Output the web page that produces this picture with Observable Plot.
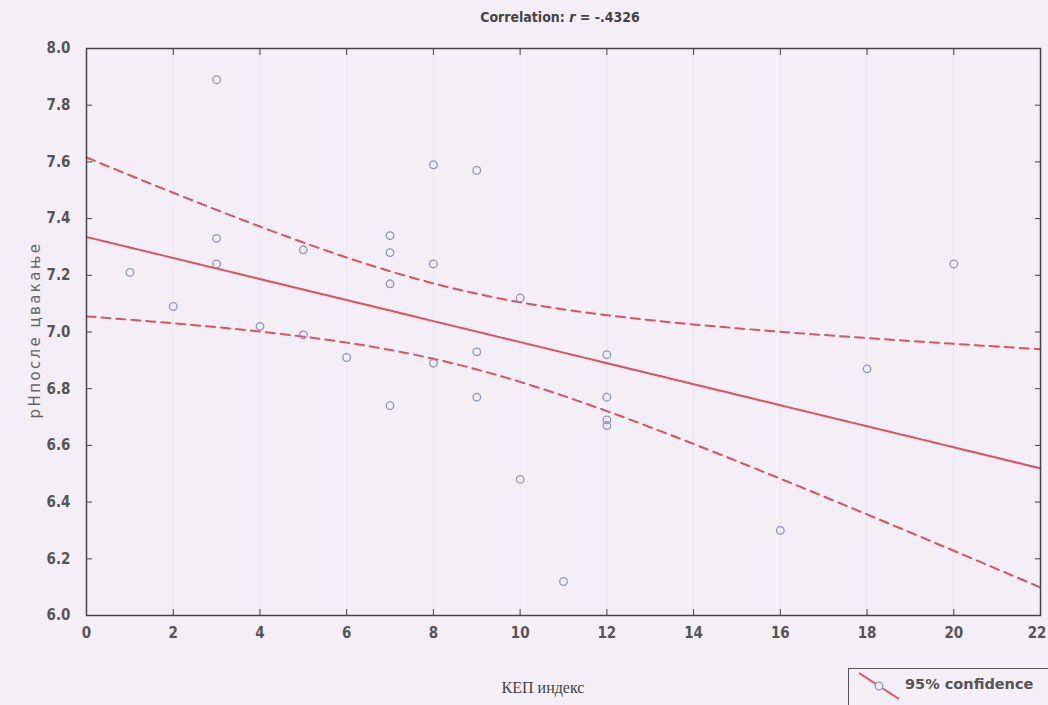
<!DOCTYPE html>
<html>
<head>
<meta charset="utf-8">
<script src="https://cdn.jsdelivr.net/npm/d3@7"></script>
<script src="https://cdn.jsdelivr.net/npm/@observablehq/plot@0.6"></script>
<style>
  html, body { margin: 0; padding: 0; background: #f4eff7; }
  #wrap { position: relative; width: 1048px; height: 705px; overflow: hidden; background: #f4eff7; }
  .cond { font-family: "Liberation Sans Narrow", "Arial Narrow", "DejaVu Sans Condensed", sans-serif; }
  #title { position: absolute; left: 0; width: 1120px; top: 9px; text-align: center; font-size: 14px; font-weight: bold; color: #444; }
  #ylab { position: absolute; left: 35px; top: 330px; transform: translate(-50%, -50%) rotate(-90deg); white-space: nowrap;
          font-family: "DejaVu Sans", sans-serif; font-size: 15px; letter-spacing: 2.4px; color: #666; }
  #xlab { position: absolute; left: 543px; top: 679px; transform: translateX(-50%); white-space: nowrap;
          font-family: "Liberation Serif", "Times New Roman", serif; font-size: 16px; color: #444; }
  #legend { position: absolute; left: 848px; top: 668px; width: 220px; height: 60px; border: 1.5px solid #555; box-sizing: border-box; }
  #legend svg { position: absolute; left: 0; top: 0; }
  #legtext { position: absolute; left: 56px; top: 7px; font-family: "DejaVu Sans", sans-serif; font-weight: bold; font-size: 14.5px; color: #555; white-space: nowrap; }
</style>
</head>
<body>
<div id="wrap">
  <div id="chart"></div>
  <div id="title" class="cond">Correlation: <i>r</i> = -.4326</div>
  <div id="ylab">pHпосле цвакање</div>
  <div id="xlab">КЕП индекс</div>
  <div id="legend">
    <svg width="60" height="40">
      <line x1="10" y1="4" x2="50" y2="30" stroke="#e0505e" stroke-width="2"/>
      <circle cx="30" cy="17" r="3.8" fill="#f4eff7" stroke="#8a96c0" stroke-width="1.3"/>
    </svg>
    <div id="legtext">95% confidence</div>
  </div>
</div>
<script>
// KEP index (x) and pH after chewing (y)
const kep = [1, 2, 3, 3, 3, 4, 5, 5, 6, 7, 7, 7, 7, 8, 8, 8, 9, 9, 9, 10, 10, 11, 12, 12, 12, 12, 16, 18, 20];
const ph  = [7.21, 7.09, 7.89, 7.33, 7.24, 7.02, 7.29, 6.99, 6.91, 7.34, 7.28, 7.17, 6.74, 7.59, 7.24, 6.89, 7.57, 6.93, 6.77, 7.12, 6.48, 6.12, 6.92, 6.77, 6.69, 6.67, 6.30, 6.87, 7.24];
const xTicks = [0, 2, 4, 6, 8, 10, 12, 14, 16, 18, 20, 22];
const yTicks = [6.0, 6.2, 6.4, 6.6, 6.8, 7.0, 7.2, 7.4, 7.6, 7.8, 8.0];
const tCrit = 2.052; // t(0.975, df = 27)

const pts = kep.map((x, i) => ({x, y: ph[i]}));

// least-squares fit and 95% confidence band of the mean
const n = kep.length;
const mx = d3.mean(kep), my = d3.mean(ph);
const sxx = d3.sum(kep, x => (x - mx) ** 2);
const sxy = d3.sum(pts, p => (p.x - mx) * (p.y - my));
const b = sxy / sxx, a = my - b * mx;
const sse = d3.sum(pts, p => (p.y - (a + b * p.x)) ** 2);
const s = Math.sqrt(sse / (n - 2));
const grid = d3.range(0, 22.001, 0.25);
const fit = grid.map(x => {
  const yh = a + b * x;
  const h = tCrit * s * Math.sqrt(1 / n + (x - mx) ** 2 / sxx);
  return {x, y: yh, lo: yh - h, hi: yh + h};
});

const axisFont = {fontFamily: '"Liberation Sans Narrow", "Arial Narrow", "DejaVu Sans Condensed", sans-serif', fontSize: 15, fontWeight: "bold", fill: "#555"};

const chart = Plot.plot({
  width: 1048,
  height: 705,
  marginLeft: 86,
  marginRight: 8,
  marginTop: 48,
  marginBottom: 90,
  style: {background: "#f4eff7", overflow: "visible"},
  x: {domain: [0, 22]},
  y: {domain: [6, 8]},
  marks: [
    Plot.ruleX(xTicks.slice(1, -1), {stroke: "#ebe5ef", strokeWidth: 1}),
    Plot.line(fit, {x: "x", y: "hi", stroke: "#e0505e", strokeWidth: 2, strokeDasharray: "9,6"}),
    Plot.line(fit, {x: "x", y: "lo", stroke: "#e0505e", strokeWidth: 2, strokeDasharray: "9,6"}),
    Plot.line(fit, {x: "x", y: "y", stroke: "#e0505e", strokeWidth: 2}),
    Plot.dot(pts, {x: "x", y: "y", r: 3.8, stroke: "#8a96c0", strokeWidth: 1.3, fill: "none"}),
    Plot.frame({stroke: "#444", strokeWidth: 1.5}),
    // inward ticks
    Plot.axisX({anchor: "bottom", ticks: xTicks, tickSize: -6, tickFormat: () => "", stroke: "#444", label: null}),
    Plot.axisX({anchor: "top", ticks: xTicks, tickSize: -6, tickFormat: () => "", stroke: "#444", label: null}),
    Plot.axisY({anchor: "left", ticks: yTicks, tickSize: -6, tickFormat: () => "", stroke: "#444", label: null}),
    Plot.axisY({anchor: "right", ticks: yTicks, tickSize: -6, tickFormat: () => "", stroke: "#444", label: null}),
    // labels
    Plot.axisX({anchor: "bottom", ticks: xTicks.slice(0, -1), tickSize: 0, tickPadding: 12, tickFormat: d3.format("d"), label: null, ...axisFont}),
    Plot.axisX({anchor: "bottom", ticks: xTicks.slice(-1), tickSize: 0, tickPadding: 12, tickFormat: d3.format("d"), label: null, textAnchor: "end", dx: 6, ...axisFont}),
    Plot.axisY({anchor: "left", ticks: yTicks, tickSize: 0, tickPadding: 16, tickFormat: d3.format(".1f"), label: null, ...axisFont})
  ]
});
document.getElementById("chart").appendChild(chart);
</script>
</body>
</html>
